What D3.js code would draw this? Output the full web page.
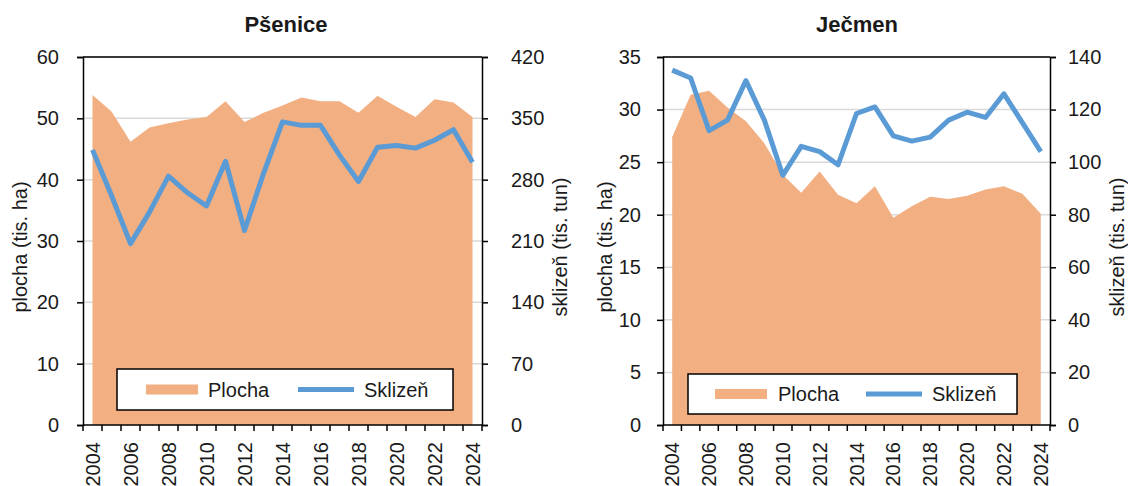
<!DOCTYPE html>
<html>
<head>
<meta charset="utf-8">
<script src="https://cdn.jsdelivr.net/npm/d3@7"></script>
<style>
  body { margin: 0; background: #fff; }
  svg text { font-family: "Liberation Sans", Arial, sans-serif; fill: #1a1a1a; }
</style>
</head>
<body>
<svg id="chart" width="1128" height="486"></svg>
<script>
// data
let years = d3.range(2004, 2025);
let yearLabels = years.filter(y => y % 2 === 0);

let psenicePlocha = [53.8, 51.1, 46.2, 48.5, 49.2, 49.8, 50.2, 52.8, 49.4, 50.9, 52.1,
                     53.4, 52.8, 52.8, 50.9, 53.7, 51.9, 50.2, 53.1, 52.6, 50.2];
let pseniceSklizen = [314, 262, 207, 243, 284, 265, 250, 301, 222, 287, 346,
                      342, 342, 308, 278, 317, 319, 316, 325, 337, 300];
let jecmenPlocha = [27.4, 31.4, 31.8, 30.2, 28.9, 26.8, 23.8, 22.1, 24.1, 21.9, 21.1,
                    22.7, 19.7, 20.8, 21.7, 21.5, 21.8, 22.4, 22.7, 22.0, 20.1];
let jecmenSklizen = [135, 132, 112, 116, 131, 116, 95, 106, 104, 99, 118.5,
                     121, 110, 108, 109.5, 116, 119, 117, 126, 115, 104];

let pseniceLeftTicks = [0, 10, 20, 30, 40, 50, 60];
let pseniceRightTicks = [0, 70, 140, 210, 280, 350, 420];
let jecmenLeftTicks = [0, 5, 10, 15, 20, 25, 30, 35];
let jecmenRightTicks = [0, 20, 40, 60, 80, 100, 120, 140];

// colors
let colorArea = "#f2af82";
let colorLine = "#5b9bd5";
let colorGrid = "#d9d9d9";
let fontSize = "20px";

let svg = d3.select("#chart");

function drawChart(c) {
    let g = svg.append("g");

    let x = d3.scaleBand().domain(years).range([c.left, c.right]);
    let yL = d3.scaleLinear().domain([0, d3.max(c.leftTicks)]).range([c.bottom, c.top]);
    let yR = d3.scaleLinear().domain([0, d3.max(c.rightTicks)]).range([c.bottom, c.top]);
    let cx = d => x(d) + x.bandwidth() / 2;

    // gridlines
    g.selectAll(".grid")
        .data(c.leftTicks.slice(1))
        .enter().append("line")
        .attr("x1", c.left).attr("x2", c.right)
        .attr("y1", d => yL(d)).attr("y2", d => yL(d))
        .style("stroke", colorGrid).style("stroke-width", 1.5);

    // area (plocha)
    let area = d3.area()
        .x((d, i) => cx(years[i]))
        .y0(yL(0))
        .y1(d => yL(d));
    g.append("path")
        .datum(c.plocha)
        .attr("d", area)
        .style("fill", colorArea);

    // line (sklizen)
    let line = d3.line()
        .x((d, i) => cx(years[i]))
        .y(d => yR(d));
    g.append("path")
        .datum(c.sklizen)
        .attr("d", line)
        .style("fill", "none")
        .style("stroke", colorLine)
        .style("stroke-width", 5)
        .style("stroke-linejoin", "round");

    // top border
    g.append("line")
        .attr("x1", c.left).attr("x2", c.right)
        .attr("y1", c.top).attr("y2", c.top)
        .style("stroke", "#000").style("stroke-width", 1.5);

    // left axis
    let axL = g.append("g")
        .attr("transform", "translate(" + c.left + ",0)")
        .call(d3.axisLeft(yL).tickValues(c.leftTicks).tickSize(6).tickPadding(c.padL));
    // right axis
    let axR = g.append("g")
        .attr("transform", "translate(" + c.right + ",0)")
        .call(d3.axisRight(yR).tickValues(c.rightTicks).tickSize(6).tickPadding(c.padR));
    // bottom axis: ticks on band boundaries
    let bounds = years.map(y => x(y)).concat([c.right]);
    let axB = g.append("g");
    axB.append("line")
        .attr("x1", c.left).attr("x2", c.right)
        .attr("y1", c.bottom).attr("y2", c.bottom);
    axB.selectAll(".tk")
        .data(bounds)
        .enter().append("line")
        .attr("x1", d => d).attr("x2", d => d)
        .attr("y1", c.bottom).attr("y2", c.bottom + 6);
    axB.selectAll("line").style("stroke", "#000").style("stroke-width", 1.5);
    axB.selectAll(".yl")
        .data(yearLabels)
        .enter().append("text")
        .attr("transform", d => "translate(" + (cx(d) + 7) + "," + (c.bottom + 17) + ") rotate(-90)")
        .attr("text-anchor", "end")
        .style("font-size", fontSize)
        .text(d => d);

    [axL, axR].forEach(a => {
        a.select(".domain").style("stroke", "#000").style("stroke-width", 1.5);
        a.selectAll(".tick line").style("stroke", "#000").style("stroke-width", 1.5);
        a.selectAll(".tick text").style("font-size", fontSize).attr("fill", "#1a1a1a");
        a.attr("font-family", null);
    });

    // title
    g.append("text")
        .attr("x", c.titleX).attr("y", 32)
        .attr("text-anchor", "middle")
        .style("font-size", "22px").style("font-weight", "bold")
        .text(c.title);

    // axis titles
    g.append("text")
        .attr("transform", "translate(" + c.yTitleL + "," + 247 + ") rotate(-90)")
        .attr("text-anchor", "middle")
        .style("font-size", fontSize)
        .text("plocha (tis. ha)");
    g.append("text")
        .attr("transform", "translate(" + c.yTitleR + "," + 247 + ") rotate(-90)")
        .attr("text-anchor", "middle")
        .style("font-size", fontSize)
        .text("sklizeň (tis. tun)");

    // legend
    let lg = c.legend;
    g.append("rect")
        .attr("x", lg.x).attr("y", lg.y)
        .attr("width", lg.w).attr("height", lg.h)
        .style("fill", "#fff").style("stroke", "#000").style("stroke-width", 1.5);
    let my = lg.y + lg.h / 2;
    g.append("rect")
        .attr("x", lg.x + lg.sw).attr("y", my - 5)
        .attr("width", 52).attr("height", 10)
        .style("fill", colorArea);
    g.append("text")
        .attr("x", lg.x + lg.t1).attr("y", my + 7)
        .style("font-size", fontSize)
        .text("Plocha");
    g.append("line")
        .attr("x1", lg.x + lg.l1).attr("x2", lg.x + lg.l1 + 56)
        .attr("y1", my).attr("y2", my)
        .style("stroke", colorLine).style("stroke-width", 5);
    g.append("text")
        .attr("x", lg.x + lg.t2).attr("y", my + 7)
        .style("font-size", fontSize)
        .text("Sklizeň");
}

drawChart({
    title: "Pšenice", titleX: 286,
    left: 83, right: 482, top: 57, bottom: 425,
    plocha: psenicePlocha, sklizen: pseniceSklizen,
    leftTicks: pseniceLeftTicks, rightTicks: pseniceRightTicks,
    padL: 18, padR: 23,
    yTitleL: 27, yTitleR: 567,
    legend: {x: 117, y: 369, w: 336, h: 41, sw: 29, t1: 91, l1: 181, t2: 247}
});

drawChart({
    title: "Ječmen", titleX: 857,
    left: 663, right: 1050, top: 57, bottom: 425,
    plocha: jecmenPlocha, sklizen: jecmenSklizen,
    leftTicks: jecmenLeftTicks, rightTicks: jecmenRightTicks,
    padL: 16, padR: 12,
    yTitleL: 612, yTitleR: 1124,
    legend: {x: 688, y: 374, w: 329, h: 40, sw: 27, t1: 90, l1: 178, t2: 244}
});
</script>
</body>
</html>
